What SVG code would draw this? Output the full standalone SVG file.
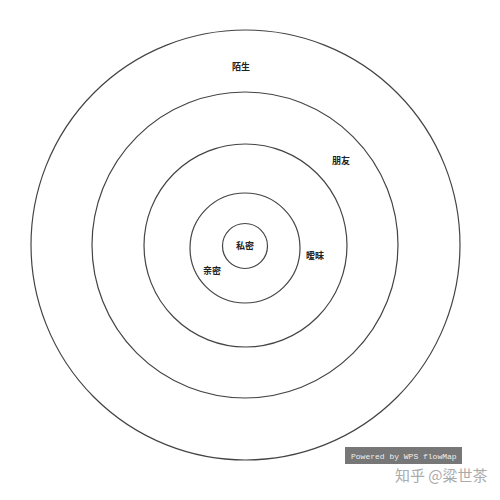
<svg xmlns="http://www.w3.org/2000/svg" width="500" height="500" viewBox="0 0 500 500">
<style>
.ring{fill:none;stroke:#444;stroke-width:1.2}
.lbl{font-family:"Noto Sans CJK SC","Liberation Sans",sans-serif;font-size:9px;font-weight:bold;fill:#222;text-anchor:middle;dominant-baseline:central}
.wm{font-family:"Liberation Mono",monospace;font-size:8px;fill:#eee}
.zh{font-family:"Noto Sans CJK SC",sans-serif;font-size:15px;fill:#aaa}
</style>
<rect width="500" height="500" fill="#fff"/>
<g id="n-stranger"><ellipse class="ring" cx="245.5" cy="245" rx="214.5" ry="215"/><text class="lbl" x="241" y="66">陌生</text></g>
<g id="n-friend"><circle class="ring" cx="245" cy="245" r="153"/><text class="lbl" x="341" y="160">朋友</text></g>
<g id="n-ambiguous"><circle class="ring" cx="245.5" cy="245.5" r="101.5"/><text class="lbl" x="315" y="255">暧昧</text></g>
<g id="n-close"><circle class="ring" cx="245" cy="248" r="55"/><text class="lbl" x="212" y="270">亲密</text></g>
<g id="n-private"><circle class="ring" cx="245" cy="246" r="22.5"/><text class="lbl" x="245" y="245">私密</text></g>
<g id="connectors"/>
<g id="watermark">
<rect x="345" y="447" width="117" height="17" fill="#777"/>
<text class="wm" x="351" y="458.5">Powered by WPS flowMap</text>
<text class="zh" x="395" y="481">知乎 @粱世茶</text>
</g>
</svg>
